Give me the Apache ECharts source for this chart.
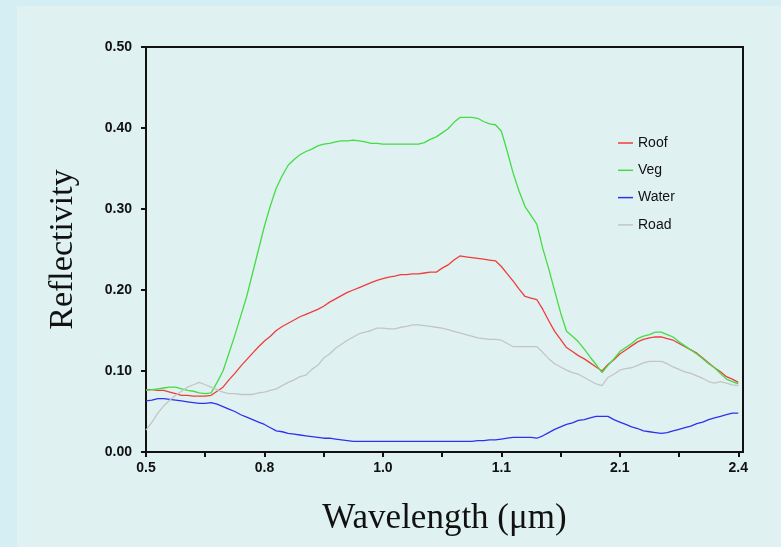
<!DOCTYPE html>
<html>
<head>
<meta charset="utf-8">
<script src="https://cdn.jsdelivr.net/npm/echarts@6/dist/echarts.min.js"></script>
<style>
html,body{margin:0;padding:0;background:#d5eef3}
#main{width:781px;height:547px}
</style>
</head>
<body>
<div id="main"></div>
<script>
// wavelength labels under the x axis (axis is not linear, one label per 20 samples)
var tickLabels = ['0.5', '0.8', '1.0', '1.1', '2.1', '2.4'];
var seriesNames = ['Roof', 'Veg', 'Water', 'Road'];

var roof = [0.077,0.077,0.076,0.076,0.074,0.072,0.070,0.070,0.069,0.069,
	0.069,0.070,0.075,0.080,0.089,0.097,0.106,0.114,0.122,0.130,
	0.137,0.143,0.150,0.155,0.159,0.163,0.167,0.170,0.173,0.176,
	0.180,0.185,0.189,0.193,0.197,0.200,0.203,0.206,0.209,0.212,
	0.214,0.216,0.217,0.219,0.219,0.220,0.220,0.221,0.222,0.222,
	0.227,0.231,0.237,0.242,0.241,0.240,0.239,0.238,0.237,0.236,
	0.229,0.220,0.211,0.201,0.192,0.190,0.188,0.176,0.162,0.149,
	0.139,0.129,0.124,0.119,0.115,0.110,0.105,0.100,0.108,0.114,
	0.121,0.126,0.131,0.136,0.139,0.141,0.142,0.142,0.140,0.138,
	0.134,0.130,0.126,0.122,0.116,0.110,0.104,0.099,0.093,0.090,
	0.086];

var veg = [0.076,0.077,0.078,0.079,0.080,0.080,0.078,0.076,0.075,0.073,
	0.072,0.073,0.086,0.100,0.122,0.144,0.168,0.192,0.221,0.250,
	0.279,0.304,0.326,0.341,0.354,0.361,0.367,0.371,0.374,0.378,
	0.380,0.381,0.383,0.384,0.384,0.385,0.384,0.383,0.381,0.381,
	0.380,0.380,0.380,0.380,0.380,0.380,0.380,0.382,0.386,0.389,
	0.394,0.399,0.407,0.413,0.413,0.413,0.412,0.408,0.405,0.404,
	0.396,0.371,0.344,0.322,0.303,0.292,0.281,0.251,0.226,0.199,
	0.172,0.149,0.143,0.136,0.127,0.117,0.108,0.098,0.107,0.115,
	0.124,0.129,0.134,0.140,0.143,0.145,0.148,0.148,0.145,0.142,
	0.136,0.131,0.126,0.121,0.115,0.109,0.104,0.097,0.090,0.087,
	0.084];

var water = [0.063,0.064,0.066,0.066,0.065,0.064,0.063,0.062,0.061,0.060,
	0.060,0.061,0.059,0.056,0.053,0.050,0.046,0.043,0.040,0.037,
	0.034,0.030,0.026,0.025,0.023,0.022,0.021,0.020,0.019,0.018,
	0.017,0.017,0.016,0.015,0.014,0.013,0.013,0.013,0.013,0.013,
	0.013,0.013,0.013,0.013,0.013,0.013,0.013,0.013,0.013,0.013,
	0.013,0.013,0.013,0.013,0.013,0.013,0.014,0.014,0.015,0.015,
	0.016,0.017,0.018,0.018,0.018,0.018,0.017,0.020,0.024,0.028,
	0.031,0.034,0.036,0.039,0.040,0.042,0.044,0.044,0.044,0.040,
	0.037,0.034,0.031,0.029,0.026,0.025,0.024,0.023,0.024,0.026,
	0.028,0.030,0.032,0.035,0.037,0.040,0.042,0.044,0.046,0.048,
	0.048];

var road = [0.027,0.037,0.048,0.057,0.064,0.070,0.075,0.080,0.083,0.086,
	0.083,0.080,0.077,0.074,0.072,0.072,0.071,0.071,0.071,0.073,
	0.074,0.076,0.078,0.082,0.086,0.089,0.093,0.095,0.102,0.107,
	0.116,0.121,0.128,0.133,0.138,0.142,0.146,0.148,0.150,0.153,
	0.153,0.152,0.152,0.154,0.155,0.157,0.157,0.156,0.155,0.154,
	0.153,0.151,0.149,0.147,0.145,0.143,0.141,0.140,0.139,0.139,
	0.138,0.134,0.130,0.130,0.130,0.130,0.130,0.123,0.115,0.109,
	0.105,0.101,0.098,0.096,0.092,0.088,0.084,0.082,0.092,0.096,
	0.101,0.103,0.104,0.107,0.110,0.112,0.112,0.112,0.109,0.105,
	0.102,0.099,0.097,0.094,0.091,0.087,0.085,0.087,0.085,0.083,
	0.082];

var colors = ['#f03c3c', '#44dc44', '#3030f0', '#c4c4c4'];

function toPoints(arr){
	return arr.map(function(v, i){ return [i, v]; });
}

var myChart = echarts.init(document.getElementById('main'));
var option = {
	backgroundColor: '#d5eef3',
	color: colors,
	animation: false,
	graphic: [{
		type: 'rect',
		z: -10,
		shape: {x: 17, y: 6, width: 764, height: 541},
		style: {fill: '#dff2f1'}
	}],
	grid: {
		left: 146,
		right: 38,
		top: 47,
		bottom: 95,
		show: true,
		borderColor: '#111',
		borderWidth: 2,
		backgroundColor: 'transparent'
	},
	legend: {
		data: seriesNames,
		orient: 'vertical',
		icon: 'rect',
		padding: 0,
		left: 618,
		top: 135,
		itemWidth: 15,
		itemHeight: 1.5,
		itemGap: 11.3,
		textStyle: {
			fontFamily: 'Liberation Sans',
			fontSize: 14,
			lineHeight: 16,
			color: '#111'
		}
	},
	xAxis: {
		type: 'value',
		min: 0,
		max: 100.8,
		name: 'Wavelength (\u03bcm)',
		nameLocation: 'middle',
		nameGap: 49,
		nameTextStyle: {
			fontFamily: 'Liberation Serif',
			fontSize: 35,
			color: '#111'
		},
		splitLine: {show: false},
		axisLine: {lineStyle: {color: '#111', width: 2}},
		axisTick: {
			length: 5,
			customValues: [0, 10, 20, 30, 40, 50, 60, 70, 80, 90, 100],
			lineStyle: {color: '#111', width: 2}
		},
		axisLabel: {
			customValues: [0, 20, 40, 60, 80, 100],
			margin: 9,
			fontFamily: 'Liberation Sans',
			fontWeight: 'bold',
			fontSize: 14,
			color: '#111',
			formatter: function(v){ return tickLabels[Math.round(v / 20)]; }
		}
	},
	yAxis: {
		type: 'value',
		min: 0,
		max: 0.5,
		interval: 0.1,
		name: 'Reflectivity',
		nameLocation: 'middle',
		nameGap: 66,
		nameTextStyle: {
			fontFamily: 'Liberation Serif',
			fontSize: 34,
			color: '#111'
		},
		splitLine: {show: false},
		axisLine: {show: true, lineStyle: {color: '#111', width: 2}},
		axisTick: {show: true, length: 5, lineStyle: {color: '#111', width: 2}},
		axisLabel: {
			margin: 14,
			fontFamily: 'Liberation Sans',
			fontWeight: 'bold',
			fontSize: 14,
			color: '#111',
			formatter: function(v){ return v.toFixed(2); }
		}
	},
	series: [
		{name: 'Roof', type: 'line', data: toPoints(roof)},
		{name: 'Veg', type: 'line', data: toPoints(veg)},
		{name: 'Water', type: 'line', data: toPoints(water)},
		{name: 'Road', type: 'line', data: toPoints(road)}
	].map(function(s){
		s.symbol = 'none';
		s.showSymbol = false;
		s.lineStyle = {width: 1.3};
		return s;
	})
};
myChart.setOption(option);
</script>
</body>
</html>
